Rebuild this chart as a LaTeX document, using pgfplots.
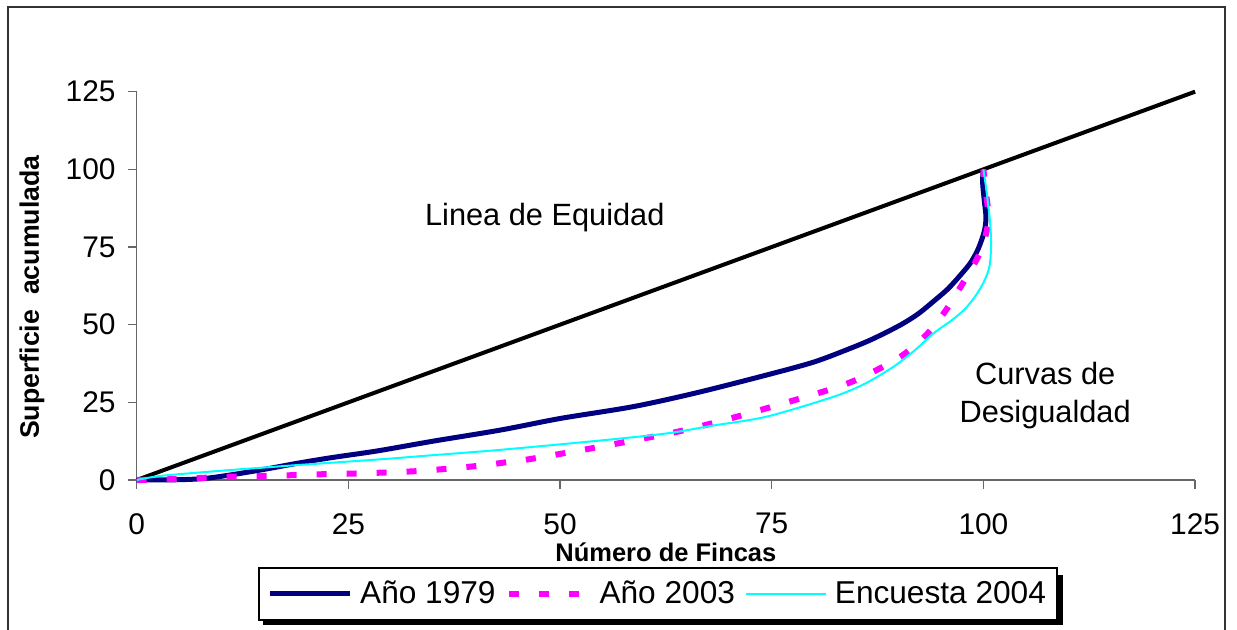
\documentclass[border=0pt]{standalone}
\usepackage{fontspec}
\setmainfont{Liberation Sans}
\usepackage{pgfplots}
\pgfplotsset{compat=1.18}

\definecolor{navyline}{HTML}{000080}
\definecolor{magline}{HTML}{FF00FF}
\definecolor{cyanline}{HTML}{00FFFF}

\begin{document}
\begin{tikzpicture}
\useasboundingbox (0,0) rectangle (24.74,-12.58);
% outer frame
\draw[black!80, line width=0.04cm] (0.16,-12.8) -- (0.16,-0.14) -- (24.5,-0.14) -- (24.5,-12.8);
% legend shadow (the legend box itself is drawn by the axis on top of it)
\fill[black] (5.26,-11.5) rectangle (21.26,-12.5);
\begin{axis}[
    at={(2.734cm,-9.6cm)}, anchor=origin,
    x=0.16934cm, y=0.06214cm,
    xmin=0, xmax=125, ymin=0, ymax=125,
    xtick={0,25,...,125}, ytick={0,25,...,125},
    axis x line*=bottom, axis y line*=left,
    axis line style={black!60, line width=0.7pt},
    tick style={black!60, line width=0.7pt},
    tick align=outside, major tick length=0.18cm,
    clip=false,
    /pgf/number format/assume math mode=true,
    ticklabel style={font=\fontsize{17}{20}\selectfont},
    xticklabel style={yshift=-0.36cm},
    yticklabel style={xshift=-0.12cm},
    xlabel={Número de Fincas},
    ylabel={Superficie\ \ acumulada},
    xlabel style={at={(axis description cs:0.5,-0.185)}, anchor=center,
        font=\bfseries\fontsize{14.5}{17}\selectfont},
    ylabel style={at={(axis description cs:-0.099,0.471)}, anchor=center,
        rotate=0, font=\bfseries\fontsize{15.2}{17}\selectfont},
    legend columns=-1,
    legend style={at={(axis description cs:0.4926,-0.2934)}, anchor=center,
        draw=black, line width=1.1pt, fill=white,
        font=\fontsize{18}{21}\selectfont,
        inner xsep=4.8pt, inner ysep=5.5pt,
        nodes={inner xsep=1.4pt, inner ysep=2pt},
        /tikz/every odd column/.append style={column sep=0.1cm},
        /tikz/every even column/.append style={column sep=0.16cm}},
    legend image code/.code={\draw[#1] (0cm,0cm) -- (1.6cm,0cm);},
]
% equity line
\addplot[black, line width=0.08cm, forget plot] coordinates {(0,0) (125,125)};

\addplot[navyline, line width=0.1cm, smooth, tension=0.5] coordinates {
(0,0) (5,0.1) (8,0.5) (11,1.6) (15,3.4) (19,5.4) (23,7.2) (28.5,9.4)
(35,12.5) (43,16.1) (50,19.8) (58.6,23.6) (66,28) (74.4,33.8) (80,38)
(84.3,42.4) (87,45.5) (90.2,49.9) (92.3,53.5) (94.1,57.5) (95.8,61.5)
(97.3,66) (98.5,70) (99.4,74.5) (100.1,80) (100.3,84.5) (100.1,90) (99.9,96) (100,100)
};
\addlegendentry{Año 1979}

\addplot[magline, line width=0.12cm, dash pattern=on 0.2cm off 0.4cm, smooth, tension=0.5] coordinates {
(0,0) (4.3,0.3) (11.4,1.1) (15,1.3) (18.9,1.6) (22.4,1.9) (26,2.1) (33.3,2.9)
(40.5,4.6) (44.1,5.9) (45.7,6.4) (52.7,9.7) (58,12.4) (63.8,15.5) (69,19)
(74.4,23.1) (82.3,29.5) (86,33.5) (90.2,39.7) (93,46) (95.3,53.6) (97.2,61.7)
(98.7,68.5) (99.8,74.6) (100.6,83.7) (100.2,94.4) (100,100)
};
\addlegendentry{Año 2003}

\addplot[cyanline, line width=0.04cm, smooth, tension=0.5] coordinates {
(0,0) (3.1,1.4) (11,3.2) (15,4.0) (18.9,4.8) (28.5,6.6) (35,8.0) (42.9,9.7)
(54.7,12.7) (62.6,15) (68,17.5) (74.4,20.4) (82.3,26.8) (86,31) (89.4,36.5)
(92,42) (94.1,47.2) (96.3,51.5) (97.8,55) (99,59) (100,63.5) (100.7,68.5)
(100.9,75) (100.8,82.6) (100.4,92.3) (100,100)
};
\addlegendentry{Encuesta 2004}

\node[font=\fontsize{17.5}{20}\selectfont] at (axis cs:48.2,84.6) {Linea de Equidad};
\node[font=\fontsize{17.5}{21.6}\selectfont, align=center] at (axis cs:107.3,27.05) {Curvas de\\Desigualdad};
\end{axis}
\end{tikzpicture}
\end{document}
